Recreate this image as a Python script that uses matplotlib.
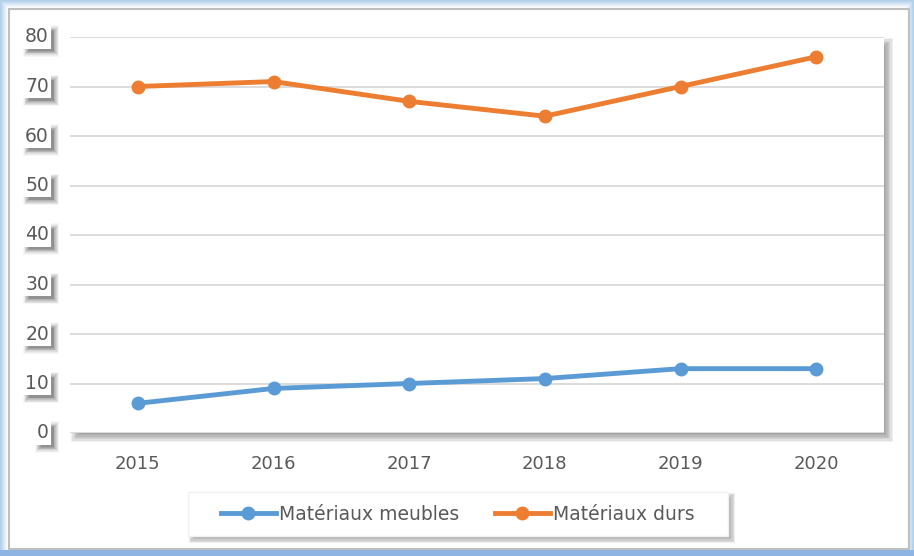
import matplotlib
matplotlib.use("Agg")
import matplotlib.pyplot as plt
from matplotlib.patches import Rectangle
from matplotlib.lines import Line2D
import matplotlib.transforms as mtransforms

# ---- data ----
years = ["2015", "2016", "2017", "2018", "2019", "2020"]
meubles = [6, 9, 10, 11, 13, 13]
durs = [70, 71, 67, 64, 70, 76]
series_names = ["Matériaux meubles", "Matériaux durs"]
y_ticks = [0, 10, 20, 30, 40, 50, 60, 70, 80]

BLUE = "#5B9BD5"
ORANGE = "#ED7D31"
TXT = "#595959"
GRID = "#D9D9D9"

plt.rcParams['font.family'] = ['DejaVu Sans']

W, H = 914, 556
fig = plt.figure(figsize=(W / 100, H / 100), dpi=100)
fig.patch.set_facecolor("white")

def px(x0, y0, x1, y1):
    """figure-fraction rect from pixel coords (top-left origin)"""
    return (x0 / W, 1 - y1 / H, (x1 - x0) / W, (y1 - y0) / H)

def soft_shadow(x0, y0, x1, y1, dx, dy, steps=6, blur=5, color="black", alpha=0.07, z=0):
    for i in range(steps):
        g = blur * (i / (steps - 1)) - blur / 2
        l, b, w, h = px(x0 + dx - g, y0 + dy - g, x1 + dx + g, y1 + dy + g)
        fig.add_artist(Rectangle((l, b), w, h, transform=fig.transFigure,
                                 facecolor=color, edgecolor="none",
                                 alpha=alpha, zorder=z))

# ---- outer frame: light-blue glow + gray line ----
for i, a in enumerate([0.35, 0.3, 0.25, 0.2, 0.15, 0.1, 0.06, 0.03]):
    l, b, w, h = px(i, i, W - i, H - i)
    fig.add_artist(Rectangle((l, b), w, h, transform=fig.transFigure,
                             facecolor="none", edgecolor="#5B9BD5",
                             linewidth=1.2, alpha=a, zorder=0))
l, b, w, h = px(0, 550, W, H)
fig.add_artist(Rectangle((l, b), w, h, transform=fig.transFigure,
                         facecolor="#8DB4E2", edgecolor="none", zorder=0.1))
l, b, w, h = px(9, 9, 909, 549)
fig.add_artist(Rectangle((l, b), w, h, transform=fig.transFigure,
                         facecolor="white", edgecolor="#BFBFBF",
                         linewidth=1.5, zorder=0.2))

# ---- plot area ----
ax_l, ax_t, ax_r, ax_b = 70, 37, 884, 433
soft_shadow(ax_l, ax_t, ax_r, ax_b, 5, 5, steps=7, blur=8, alpha=0.06, z=0.3)
ax = fig.add_axes(px(ax_l, ax_t, ax_r, ax_b))
ax.set_zorder(1)
ax.set_facecolor("white")

x = list(range(len(years)))
ax.plot(x, meubles, color=BLUE, lw=3.5, marker="o", ms=9, solid_capstyle="round", zorder=3)
ax.plot(x, durs, color=ORANGE, lw=3.5, marker="o", ms=9, solid_capstyle="round", zorder=3)

ax.set_xlim(-0.5, len(years) - 0.5)
ax.set_ylim(0, 80)
ax.set_yticks(y_ticks)
ax.set_xticks(x)
ax.set_xticklabels(years, fontsize=13, color=TXT)
ax.yaxis.grid(True, color=GRID, lw=1.3)
ax.set_axisbelow(True)
for s in ax.spines.values():
    s.set_visible(False)
ax.tick_params(axis="both", length=0)
ax.tick_params(axis="x", pad=16)
ax.set_yticklabels([])

# y tick labels with white box and soft shadow
trans = mtransforms.blended_transform_factory(fig.transFigure, ax.transData)
ylabels = []
for v in y_ticks:
    txt = fig.text(49 / W, v, str(v), transform=trans, ha="right", va="center",
                   fontsize=13.5, color=TXT, zorder=5,
                   bbox=dict(facecolor="white", edgecolor="none", pad=1.5))
    ylabels.append(txt)

fig.canvas.draw()
ident = mtransforms.IdentityTransform()
for txt in ylabels:
    bb = txt.get_bbox_patch().get_window_extent()
    for i, a in enumerate([0.10, 0.09, 0.08, 0.07, 0.06, 0.05, 0.04, 0.03]):
        g = i * 0.8 - 1.5
        fig.add_artist(Rectangle((bb.x0 + 4 - g, bb.y0 - 4 - g),
                                 bb.width + 2 * g, bb.height + 2 * g,
                                 transform=ident, facecolor="black",
                                 edgecolor="none", alpha=a, zorder=4))

# ---- legend ----
lg_l, lg_t, lg_r, lg_b = 188, 492, 728, 536
soft_shadow(lg_l, lg_t, lg_r, lg_b, 4, 4, steps=6, blur=6, alpha=0.07, z=0.4)
l, b, w, h = px(lg_l, lg_t, lg_r, lg_b)
fig.add_artist(Rectangle((l, b), w, h, transform=fig.transFigure,
                         facecolor="white", edgecolor="#F2F2F2", zorder=0.5))
handles = [Line2D([], [], color=BLUE, lw=3.5, marker="o", ms=9),
           Line2D([], [], color=ORANGE, lw=3.5, marker="o", ms=9)]
fig.legend(handles, series_names, loc="center", ncol=2,
           bbox_to_anchor=((lg_l + lg_r) / 2 / W, 1 - (lg_t + lg_b) / 2 / H),
           frameon=False, fontsize=13.5, labelcolor=TXT, handlelength=2.9,
           handletextpad=0.2, columnspacing=1.9)

fig.savefig("out.png", dpi=100, facecolor="white")
